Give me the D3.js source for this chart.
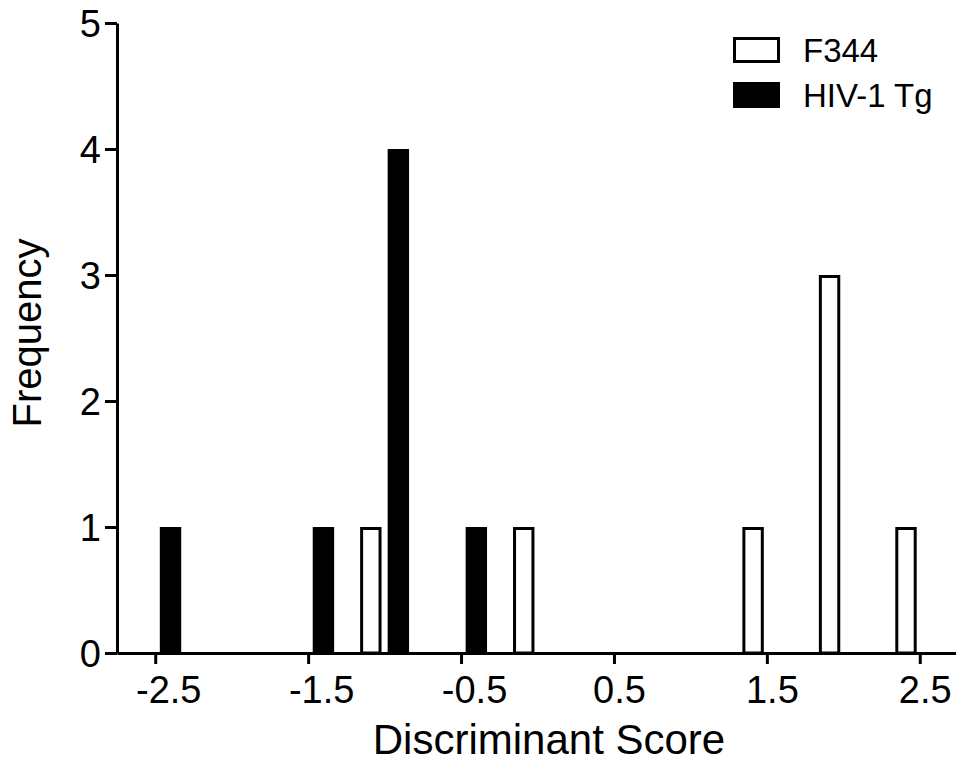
<!DOCTYPE html>
<html>
<head>
<meta charset="utf-8">
<script src="https://cdn.jsdelivr.net/npm/d3@7"></script>
<style>
  body { margin: 0; background: #fff; }
  text { font-family: Arial, "Liberation Sans", sans-serif; fill: #000; }
</style>
</head>
<body>
<script>
// Histogram of discriminant scores
const f344Scores = [-1.09, -0.09, 1.41, 1.91, 2.41];
const f344Counts = [1, 1, 1, 3, 1];
const tgScores = [-2.40, -1.40, -0.91, -0.40];
const tgCounts = [1, 1, 4, 1];
const xTicks = [-2.5, -1.5, -0.5, 0.5, 1.5, 2.5];
const yTicks = [0, 1, 2, 3, 4, 5];
const seriesNames = ["F344", "HIV-1 Tg"];
const binWidth = 0.14;

const width = 956, height = 763;

const svg = d3.select("body")
    .append("svg")
    .attr("width", width)
    .attr("height", height);

// Scales
const x = d3.scaleLinear().domain([-2.75, 2.75]).range([117, 958]);
const y = d3.scaleLinear().domain([0, 5]).range([653, 23]);
const barW = x(binWidth) - x(0);

// Bars for F344 (open)
svg.selectAll(".bar-f344")
    .data(f344Scores.map((s, i) => ({ s: s, n: f344Counts[i] })))
    .enter().append("rect")
    .attr("class", "bar-f344")
    .attr("x", d => x(d.s) - barW / 2 + 1.5)
    .attr("y", d => y(d.n) + 1.5)
    .attr("width", barW - 3)
    .attr("height", d => y(0) - y(d.n) - 1.5)
    .attr("fill", "#fff")
    .attr("stroke", "#000")
    .attr("stroke-width", 3);

// Bars for HIV-1 Tg (filled)
svg.selectAll(".bar-tg")
    .data(tgScores.map((s, i) => ({ s: s, n: tgCounts[i] })))
    .enter().append("rect")
    .attr("class", "bar-tg")
    .attr("x", d => x(d.s) - barW / 2)
    .attr("y", d => y(d.n))
    .attr("width", barW)
    .attr("height", d => y(0) - y(d.n))
    .attr("fill", "#000");

// X axis
const xAxis = svg.append("g")
    .attr("transform", "translate(0," + y(0) + ")")
    .call(d3.axisBottom(x).tickValues(xTicks).tickSize(11).tickSizeOuter(0));
xAxis.select(".domain").attr("stroke-width", 3);
xAxis.selectAll(".tick line").attr("stroke-width", 3);
xAxis.selectAll(".tick text")
    .attr("font-size", 38)
    .attr("dy", 0)
    .attr("y", 50)
    .attr("dx", d => d < 0 ? 13 : 5)
    .text(d => d3.format(".1f")(d).replace("−", "-"));

// Y axis
const yAxis = svg.append("g")
    .attr("transform", "translate(" + x(-2.75) + ",0)")
    .call(d3.axisLeft(y).tickValues(yTicks).tickSize(12).tickSizeOuter(0)
        .tickFormat(d3.format("d")));
yAxis.select(".domain").attr("stroke-width", 3);
yAxis.selectAll(".tick line").attr("stroke-width", 3);
yAxis.selectAll(".tick text")
    .attr("font-size", 38)
    .attr("x", -16)
    .attr("dy", "0.35em");

// Axis titles
svg.append("text")
    .attr("x", 549)
    .attr("y", 754)
    .attr("text-anchor", "middle")
    .attr("font-size", 42)
    .text("Discriminant Score");

svg.append("text")
    .attr("transform", "translate(41,333) rotate(-90)")
    .attr("text-anchor", "middle")
    .attr("font-size", 40)
    .text("Frequency");

// Legend
const legend = svg.append("g");
legend.append("rect")
    .attr("x", 734.5).attr("y", 38.5)
    .attr("width", 44).attr("height", 23)
    .attr("fill", "#fff").attr("stroke", "#000").attr("stroke-width", 3);
legend.append("rect")
    .attr("x", 733).attr("y", 82)
    .attr("width", 47).attr("height", 26)
    .attr("fill", "#000");
legend.selectAll(".leg-text")
    .data(seriesNames)
    .enter().append("text")
    .attr("class", "leg-text")
    .attr("x", 803)
    .attr("y", (d, i) => 62 + i * 45)
    .attr("font-size", 33)
    .text(d => d);
</script>
</body>
</html>
